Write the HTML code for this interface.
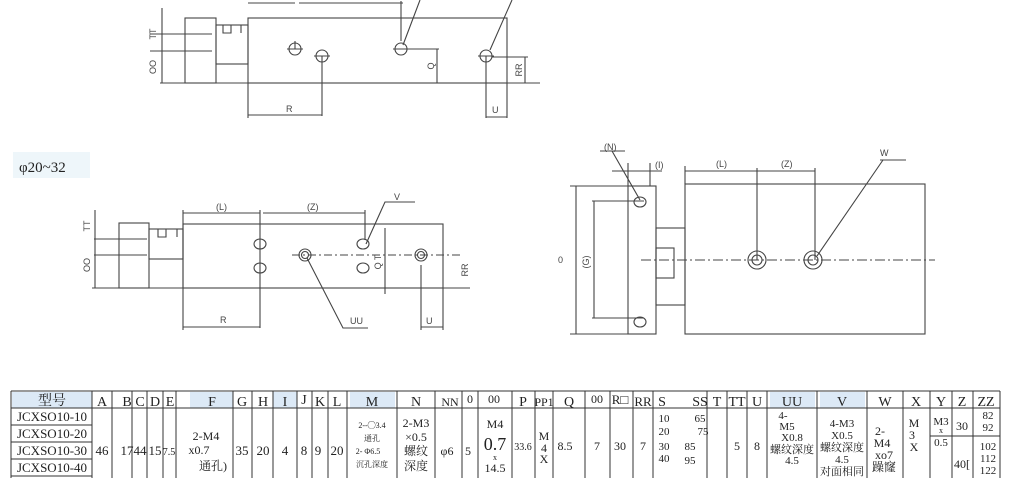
<!DOCTYPE html>
<html><head><meta charset="utf-8"><style>
html,body{margin:0;padding:0;background:#fff;width:1024px;height:478px;overflow:hidden}
svg{display:block}
text{font-family:"Liberation Serif","Noto Serif CJK SC","Noto Sans CJK SC",serif;fill:#222}
.s{font-family:"Liberation Sans",sans-serif;font-size:9px;fill:#444}
</style></head><body>
<svg width="1024" height="478" viewBox="0 0 1024 478" xmlns="http://www.w3.org/2000/svg">
<g stroke="#444" stroke-width="1.1" fill="none">
<!-- TOP VIEW -->
<rect x="248" y="18" width="259" height="65"/>
<rect x="185" y="18" width="31" height="65"/>
<rect x="216" y="25" width="32" height="39"/>
<path d="M216 25h7v8h8v-8h10v8"/>
<line x1="160" y1="83" x2="540" y2="83"/>
<line x1="150" y1="34" x2="212" y2="34"/><line x1="150" y1="51" x2="212" y2="51"/>
<line x1="162" y1="8" x2="162" y2="83"/>
<circle cx="295" cy="49" r="6"/><circle cx="322" cy="56" r="6"/><circle cx="401" cy="49" r="6"/><circle cx="486" cy="56" r="6"/>
<path d="M287 49h16M295 41v8M314 56h16M322 56v60M393 49h16M401 41v-40M478 56h16M486 56v62"/>
<path d="M407 49h32M437 49v34M492 57h36M525 57v26"/>
<path d="M248 83v35M248 115h74M486 117h21M507 83v35"/>
<path d="M248 3h47M299 3h104M420 0L403 45M512 0L490 50"/>
<!-- MID LEFT -->
<rect x="183" y="224" width="260" height="64"/>
<rect x="119" y="223" width="30" height="65"/>
<rect x="149" y="229" width="34" height="30"/>
<path d="M149 229h9v8h8v-8h11v8"/>
<line x1="92" y1="288" x2="470" y2="288"/>
<line x1="94" y1="239" x2="147" y2="239"/><line x1="94" y1="255" x2="147" y2="255"/>
<line x1="95" y1="210" x2="95" y2="288"/>
<ellipse cx="260" cy="244" rx="6" ry="5"/><ellipse cx="260" cy="268" rx="6" ry="5"/>
<ellipse cx="363" cy="244" rx="6" ry="5"/><ellipse cx="363" cy="268" rx="6" ry="5"/>
<circle cx="305" cy="255" r="6"/><circle cx="305" cy="255" r="3.5"/>
<circle cx="421" cy="255" r="6"/><circle cx="421" cy="255" r="3.5"/>
<line x1="292" y1="255" x2="460" y2="255" stroke-dasharray="8 3 2 3"/>
<path d="M183 210v120M183 213h77M263 213h102M260 210v118M365 210v30"/>
<path d="M183 327h77M421 265v65M421 327h22M443 288v42"/>
<path d="M366 244L385 202h30M307 258L343 328h25M385 228v66"/>
<!-- RIGHT VIEW -->
<rect x="628" y="186" width="28" height="148"/>
<rect x="685" y="184" width="240" height="150"/>
<rect x="656" y="228" width="29" height="77"/>
<rect x="656" y="248" width="18" height="30"/>
<ellipse cx="640" cy="202" rx="6" ry="5"/><ellipse cx="640" cy="322" rx="6" ry="5"/>
<circle cx="757" cy="260" r="9"/><circle cx="757" cy="260" r="5"/>
<circle cx="813" cy="260" r="9"/><circle cx="813" cy="260" r="5"/>
<line x1="641" y1="260" x2="935" y2="260" stroke-dasharray="10 3 2 3"/>
<path d="M570 186h58M570 334h58M576 186v148M592 201h52M592 318h52M594 201v117"/>
<path d="M685 166v18M685 171h72M757 168v92M757 171h58M815 168v92"/>
<path d="M612 151L640 200M600 151h25M612 171h50M628 163v23M650 163v23M883 160L817 256M880 160h26"/>
</g>
<g>
<text x="156" y="34" transform="rotate(-90 156 34)" class="s" text-anchor="middle">TT</text>
<text x="156" y="67" transform="rotate(-90 156 67)" class="s" text-anchor="middle">OO</text>
<text x="286" y="112" class="s">R</text>
<text x="434" y="66" transform="rotate(-90 434 66)" class="s" text-anchor="middle">Q</text>
<text x="522" y="70" transform="rotate(-90 522 70)" class="s" text-anchor="middle">RR</text>
<text x="492" y="113" class="s">U</text>
<text x="90" y="226" transform="rotate(-90 90 226)" class="s" text-anchor="middle">TT</text>
<text x="90" y="265" transform="rotate(-90 90 265)" class="s" text-anchor="middle">OO</text>
<text x="216" y="210" class="s">(L)</text><text x="307" y="210" class="s">(Z)</text>
<text x="394" y="200" class="s">V</text>
<text x="220" y="323" class="s">R</text>
<text x="350" y="324" class="s">UU</text>
<text x="426" y="324" class="s">U</text>
<text x="381" y="262" class="s" transform="rotate(-90 381 262)" text-anchor="middle">Q T</text>
<text x="468" y="270" class="s" transform="rotate(-90 468 270)" text-anchor="middle">RR</text>
<text x="604" y="150" class="s">(N)</text><text x="655" y="168" class="s">(I)</text>
<text x="716" y="167" class="s">(L)</text><text x="781" y="167" class="s">(Z)</text>
<text x="880" y="156" class="s">W</text>
<text x="558" y="263" class="s">0</text>
<text x="589" y="262" class="s" transform="rotate(-90 589 262)" text-anchor="middle">(G)</text>
</g>
<rect x="13" y="152" width="77" height="26" fill="#eef6fa"/>
<text x="19" y="172" font-size="15">φ20~32</text>
<!-- TABLE -->
<g fill="#dce9f6">
<rect x="12" y="392" width="80" height="16"/><rect x="190" y="392" width="43" height="16"/>
<rect x="273" y="392" width="24" height="16"/><rect x="350" y="392" width="45" height="16"/>
<rect x="770" y="392" width="45" height="16"/><rect x="820" y="392" width="45" height="16"/>
</g>
<g stroke="#333" stroke-width="1">
<line x1="11" y1="391" x2="1000" y2="391"/><line x1="11" y1="408" x2="1000" y2="408"/>
<line x1="11" y1="425" x2="92" y2="425"/><line x1="11" y1="442" x2="92" y2="442"/>
<line x1="11" y1="459" x2="92" y2="459"/><line x1="11" y1="476" x2="92" y2="476"/>
<line x1="930" y1="436" x2="973" y2="436"/><line x1="952" y1="436" x2="1000" y2="436"/>
<path d="M11 391V478M92 391V478M112 391V478M132 391V478M147 391V478M163 391V478M176 391V478M233 391V478M252 391V478M273 391V478M297 391V478M312 391V478M328 391V478M347 391V478M397 391V478M435 391V478M462 391V478M478 391V478M512 391V478M535 391V478M553 391V478M585 391V478M610 391V478M633 391V478M653 391V478M707 391V478M727 391V478M747 391V478M767 391V478M817 391V478M867 391V478M903 391V478M930 391V478M952 391V478M973 391V478M1000 391V478"/>
</g>
<g font-size="14" text-anchor="middle">
<text x="52" y="405">型号</text><text x="102" y="406">A</text><text x="127" y="406">B</text><text x="140" y="406">C</text><text x="155" y="406">D</text><text x="170" y="406">E</text><text x="212" y="406">F</text><text x="242" y="406">G</text><text x="263" y="406">H</text><text x="285" y="406">I</text><text x="304" y="404">J</text><text x="320" y="406">K</text><text x="337" y="406">L</text><text x="372" y="406">M</text><text x="416" y="406">N</text><text x="450" y="406" font-size="12">NN</text><text x="470" y="403" font-size="12">0</text><text x="494" y="403" font-size="12">00</text><text x="523" y="406">P</text><text x="544" y="406" font-size="12">PP1</text><text x="569" y="406">Q</text><text x="597" y="403" font-size="12">00</text><text x="620" y="404" font-size="13">R□</text><text x="643" y="406" font-size="13">RR</text><text x="662" y="406">S</text><text x="700" y="406">SS</text><text x="717" y="406">T</text><text x="737" y="406">TT</text><text x="757" y="406">U</text><text x="792" y="406">UU</text><text x="842" y="406">V</text><text x="885" y="406">W</text><text x="916" y="406">X</text><text x="941" y="406">Y</text><text x="962" y="406">Z</text><text x="986" y="406">ZZ</text>
</g>
<g font-size="12" text-anchor="middle">
<text x="52" y="421" font-size="13">JCXSO10-10</text><text x="52" y="438" font-size="13">JCXSO10-20</text><text x="52" y="455" font-size="13">JCXSO10-30</text><text x="52" y="472" font-size="13">JCXSO10-40</text>
<text x="102" y="455" font-size="13">46</text><text x="127" y="455" font-size="13">17</text><text x="140" y="455" font-size="13">44</text><text x="155" y="455" font-size="13">15</text><text x="169" y="455" font-size="10">7.5</text>
<text x="206" y="440">2-M4</text><text x="199" y="454">x0.7</text><text x="213" y="470">通孔)</text>
<text x="242" y="455" font-size="13">35</text><text x="263" y="455" font-size="13">20</text><text x="285" y="455" font-size="13">4</text><text x="304" y="455" font-size="13">8</text><text x="318" y="455" font-size="13">9</text><text x="337" y="455" font-size="13">20</text>
<text x="372" y="428" font-size="8">2--◯3.4</text><text x="372" y="441" font-size="8">通孔</text><text x="368" y="454" font-size="8">2- Φ6.5</text><text x="372" y="467" font-size="8">沉孔深度</text>
<text x="416" y="427">2-M3</text><text x="416" y="441">×0.5</text><text x="416" y="455">螺纹</text><text x="416" y="470">深度</text>
<text x="447" y="455">φ6</text><text x="468" y="455">5</text>
<text x="495" y="428">M4</text><text x="495" y="450" font-size="18">0.7</text><text x="495" y="460" font-size="8">x</text><text x="495" y="472">14.5</text>
<text x="523" y="450" font-size="10">33.6</text>
<text x="544" y="440">M</text><text x="544" y="452">4</text><text x="544" y="463">X</text>
<text x="565" y="450">8.5</text><text x="597" y="450">7</text><text x="620" y="450">30</text><text x="643" y="450">7</text>
<text x="664" y="422" font-size="11">10</text><text x="664" y="435" font-size="11">20</text><text x="664" y="450" font-size="11">30</text><text x="664" y="462" font-size="11">40</text>
<text x="700" y="422" font-size="11">65</text><text x="703" y="435" font-size="11">75</text><text x="690" y="450" font-size="11">85</text><text x="690" y="464" font-size="11">95</text>
<text x="737" y="450">5</text><text x="757" y="450">8</text>
<text x="783" y="419" font-size="11">4-</text><text x="787" y="430" font-size="11">M5</text><text x="792" y="441" font-size="11">X0.8</text><text x="792" y="453" font-size="11">螺纹深度</text><text x="792" y="464" font-size="11">4.5</text>
<text x="842" y="427" font-size="11">4-M3</text><text x="842" y="439" font-size="11">X0.5</text><text x="842" y="451" font-size="11">螺纹深度</text><text x="842" y="463" font-size="11">4.5</text><text x="842" y="475" font-size="11">对面相同</text>
<text x="880" y="435">2-</text><text x="882" y="447">M4</text><text x="884" y="459">xo7</text><text x="884" y="471">躁窿</text>
<text x="914" y="427">M</text><text x="912" y="439">3</text><text x="914" y="451">X</text>
<text x="941" y="425" font-size="11">M3</text><text x="941" y="433" font-size="8">x</text><text x="941" y="446" font-size="11">0.5</text>
<text x="962" y="430">30</text><text x="962" y="468">40[</text>
<text x="988" y="419" font-size="11">82</text><text x="988" y="431" font-size="11">92</text><text x="988" y="450" font-size="11">102</text><text x="988" y="462" font-size="11">112</text><text x="988" y="474" font-size="11">122</text>
</g>
</svg>
</body></html>
